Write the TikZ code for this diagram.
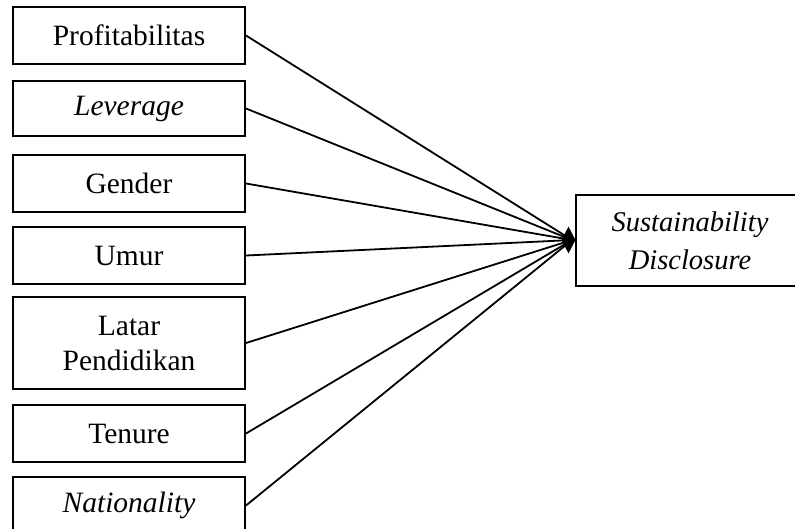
\documentclass[tikz,border=0pt]{standalone}
\usepackage{fontspec}
\setmainfont{Liberation Serif}
\usetikzlibrary{shapes.geometric}
\begin{document}
\begin{tikzpicture}[x=1pt,y=-1pt,
  box/.style={draw, line width=2pt, minimum width=232pt, inner sep=0pt, align=center, font=\fontsize{29.5}{35}\selectfont},
  conn/.style={line width=1.8pt}]
\clip (0,0) rectangle (795,528);
\fill[white] (0,0) rectangle (795,528);
\node[box, minimum height=57pt] (p) at (129,35.5) {Profitabilitas};
\node[box, minimum height=55pt] (l) at (129,108.5) {\itshape Leverage};
\node[box, minimum height=57pt] (g) at (129,183.5) {Gender};
\node[box, minimum height=57pt] (u) at (129,255.5) {Umur};
\node[box, minimum height=92pt] (e) at (129,343) {Latar\\Pendidikan};
\node[box, minimum height=57pt] (t) at (129,433.5) {Tenure};
\node[box, minimum height=57pt] (n) at (129,505.5) {\itshape Nationality};
\node[box, minimum width=240pt, minimum height=91pt, font=\itshape\fontsize{28.5}{38}\selectfont, anchor=west] (s) at (575,240.5) {\hspace*{-12pt}Sustainability\\\hspace*{-12pt}Disclosure};
\coordinate (tip) at (572,240);
\foreach \a in {p,l,g,u,e,t,n} {
  \draw[conn] (\a.east) -- (tip);
}
\node[diamond, fill=black, draw=none, minimum width=14pt, minimum height=27pt, inner sep=0pt] (d) at (568.5,240) {};
\end{tikzpicture}
\end{document}
